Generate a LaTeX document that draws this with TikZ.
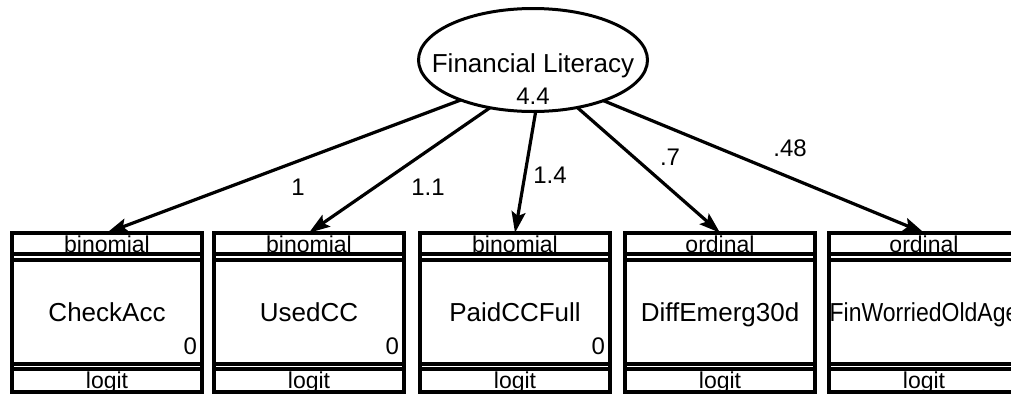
\documentclass[tikz,border=0pt]{standalone}
\usepackage{fontspec}
\setmainfont{Liberation Sans}
\usetikzlibrary{arrows.meta,shapes.geometric}

\begin{document}
\begin{tikzpicture}[x=1pt,y=-1pt,
  every node/.style={inner sep=0pt, outer sep=0pt},
  latent/.style={ellipse, draw, line width=3pt, minimum width=229pt, minimum height=103pt},
  partbox/.style={rectangle, draw, line width=3.6pt, minimum width=190pt},
  headbox/.style={partbox, minimum height=21.5pt, font=\fontsize{23}{23}\selectfont, text height=17pt, text depth=0pt},
  mainbox/.style={partbox, minimum height=104pt, font=\fontsize{26}{26}\selectfont, text height=18.5pt, text depth=0pt},
  footbox/.style={partbox, minimum height=22.5pt, font=\fontsize{23}{23}\selectfont, text height=16.5pt, text depth=0pt},
  frame/.style={draw, line width=3.6pt},
  load/.style={line width=3.2pt, -{Stealth[length=21pt,width=14pt,inset=4pt]}},
  coef/.style={font=\fontsize{24}{24}\selectfont},
  thres/.style={font=\fontsize{24}{24}\selectfont, anchor=base east, xshift=-5pt, yshift=9.5pt}
]
\fill[white] (0,0) rectangle (1011,394);
\clip (0,0) rectangle (1011,394);

% latent variable
\node[latent] (fl) at (533,60) {};
\node[font=\fontsize{26}{26}\selectfont, anchor=base] (flname) at (533,72) {Financial Literacy};
\node[font=\fontsize{24}{24}\selectfont, anchor=base] (flvar) at (533,104) {4.4};

% observed indicators: family / variable / link
\node[headbox] (h1) at (107,243.5) {binomial};
\node[mainbox] (b1) at (107,312) {CheckAcc};
\node[footbox] (f1) at (107,380.5) {logit};
\node[thres] (t1) at (b1.south east) {0};

\node[headbox] (h2) at (309,243.5) {binomial};
\node[mainbox] (b2) at (309,312) {UsedCC};
\node[footbox] (f2) at (309,380.5) {logit};
\node[thres] (t2) at (b2.south east) {0};

\node[headbox] (h3) at (515,243.5) {binomial};
\node[mainbox] (b3) at (515,312) {PaidCCFull};
\node[footbox] (f3) at (515,380.5) {logit};
\node[thres] (t3) at (b3.south east) {0};

\node[headbox] (h4) at (720,243.5) {ordinal};
\node[mainbox] (b4) at (720,312) {DiffEmerg30d};
\node[footbox] (f4) at (720,380.5) {logit};

\node[headbox] (h5) at (924,243.5) {ordinal};
\node[mainbox] (b5) at (924,312) {\scalebox{0.885}[1]{FinWorriedOldAge}};
\node[footbox] (f5) at (924,380.5) {logit};

% outer frames of the indicator boxes
\foreach \i in {1,...,5}{
  \draw[frame] (h\i.north west) rectangle (f\i.south east);
}

% loadings
\draw[load] (fl.-151) -- (h1.north);
\draw[load] (fl.-132) -- (h2.north);
\draw[load] (fl.-87)  -- (h3.north);
\draw[load] (fl.-47)  -- (h4.north);
\draw[load] (fl.-30)  -- (h5.north);

\node[coef] (c1) at (298,187) {1};
\node[coef] (c2) at (428,187) {1.1};
\node[coef] (c3) at (550,175) {1.4};
\node[coef] (c4) at (670,157) {.7};
\node[coef] (c5) at (790,148) {.48};
\end{tikzpicture}
\end{document}
